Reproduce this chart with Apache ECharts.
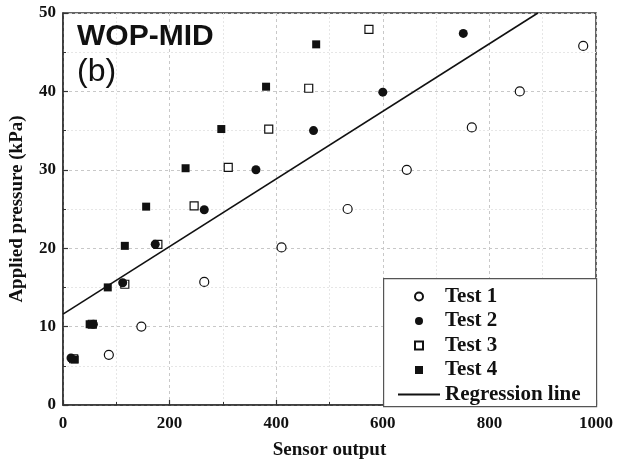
<!DOCTYPE html>
<html><head><meta charset="utf-8">
<script src="https://cdn.jsdelivr.net/npm/echarts@6/dist/echarts.min.js"></script>
<style>html,body{margin:0;padding:0;background:#fff}#c{width:625px;height:465px}</style>
</head><body><div id="c"></div>
<script>
var test1 = [[86,6.4],[147,10],[265,15.7],[410,20.1],[534,25],[645,30],[767,35.4],[857,40],[976,45.8]];
var test2 = [[15,6.0],[57,10.3],[112,15.6],[173,20.5],[265,24.9],[362,30],[470,35],[600,39.9],[751,47.4]];
var test3 = [[20,5.9],[55,10.3],[116,15.4],[178,20.5],[246,25.4],[310,30.3],[386,35.2],[461,40.4],[574,47.9]];
var test4 = [[22,5.8],[50,10.3],[84,15],[116,20.3],[156,25.3],[230,30.2],[297,35.2],[381,40.6],[475,46]];
var regIntercept = 11.6, regSlope = 0.0431;
var xTicks = [0,200,400,600,800,1000];
var yTicks = [0,10,20,30,40,50];

var yMax = 50;
var regLine = [[0, regIntercept],[(yMax - regIntercept)/regSlope, yMax]];
var serif = 'Liberation Serif';
var sq = 'path://M0,0H10V10H0Z';
var chart = echarts.init(document.getElementById('c'));
var axisCommon = {
  axisLine:{show:true,lineStyle:{color:'#333',width:1.5}},
  axisTick:{show:true,inside:true,length:5,lineStyle:{color:'#333',width:1.2}},
  minorTick:{show:true,splitNumber:2,length:3,lineStyle:{color:'#333',width:1}},
  splitLine:{show:true,lineStyle:{color:'#c8c8c8',type:[3,3],width:1}},
  minorSplitLine:{show:true,lineStyle:{color:'#e6e6e6',type:[2,2],width:1}},
  axisLabel:{fontFamily:serif,fontWeight:'bold',fontSize:17,color:'#111',formatter:function(v){return String(v);}},
  nameTextStyle:{fontFamily:serif,fontWeight:'bold',fontSize:19,color:'#111'}
};
chart.setOption({
  animation:false,
  backgroundColor:'#fff',
  title:{left:72,top:17,text:'WOP-MID',subtext:'(b)',itemGap:4,
    textStyle:{fontFamily:'Liberation Sans',fontWeight:'bold',fontSize:30,color:'#111'},
    subtextStyle:{fontFamily:'Liberation Sans',fontWeight:'normal',fontSize:32,color:'#111'}},
  grid:{left:60,right:29,top:13,bottom:59,show:true,borderColor:'#333',borderWidth:1.5,backgroundColor:'transparent'},
  xAxis:Object.assign({type:'value',min:xTicks[0],max:xTicks[xTicks.length-1],interval:200,
    name:'Sensor output',nameLocation:'middle',nameGap:36},axisCommon,
    {axisLabel:Object.assign({},axisCommon.axisLabel,{margin:10})}),
  yAxis:Object.assign({type:'value',min:yTicks[0],max:yTicks[yTicks.length-1],interval:10,
    name:'Applied pressure (kPa)',nameLocation:'middle',nameGap:36},axisCommon,
    {axisLabel:Object.assign({},axisCommon.axisLabel,{margin:7})}),
  legend:{orient:'vertical',left:392,top:281,itemWidth:42,itemHeight:8,itemGap:3.5,z:30,
    textStyle:{fontFamily:serif,fontWeight:'bold',fontSize:21,color:'#111'},
    data:[
      {name:'Test 1',icon:'circle'},
      {name:'Test 2',icon:'circle'},
      {name:'Test 3',icon:sq},
      {name:'Test 4',icon:sq},
      {name:'Regression line',itemStyle:{opacity:0}}
    ]},
  graphic:[{type:'rect',left:383,top:278,shape:{width:213,height:128},
    style:{fill:'#fff',stroke:'#555',lineWidth:1.2},z:10,silent:true}],
  series:[
    {name:'Regression line',type:'line',data:regLine,symbol:'none',showSymbol:false,
      itemStyle:{color:'#111'},lineStyle:{color:'#111',width:1.6},z:2},
    {name:'Test 1',type:'scatter',data:test1,symbol:'circle',symbolSize:9,
      itemStyle:{color:'#fff',borderColor:'#111',borderWidth:1.2,opacity:1},z:3},
    {name:'Test 3',type:'scatter',data:test3,symbol:'rect',symbolSize:8,
      itemStyle:{color:'#fff',borderColor:'#111',borderWidth:1.2,opacity:1},z:3},
    {name:'Test 4',type:'scatter',data:test4,symbol:'rect',symbolSize:8,
      itemStyle:{color:'#111',opacity:1},z:4},
    {name:'Test 2',type:'scatter',data:test2,symbol:'circle',symbolSize:9,
      itemStyle:{color:'#111',opacity:1},z:5}
  ]
});
</script></body></html>
